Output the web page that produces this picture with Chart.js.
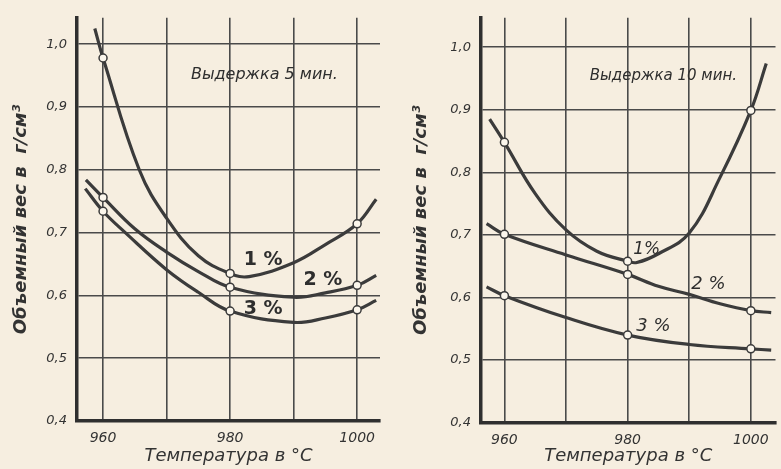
<!DOCTYPE html>
<html><head><meta charset="utf-8">
<script src="https://cdn.jsdelivr.net/npm/chart.js@4.4.1/dist/chart.umd.min.js"></script>
<style>
html,body{margin:0;padding:0;background:#f6eee0;}
#w{position:relative;width:781px;height:469px;overflow:hidden;background:#f6eee0;}
#c1{position:absolute;left:0;top:0;}
#c2{position:absolute;left:400px;top:0;}
</style></head><body>
<div id="w"><canvas id="c1" width="390" height="469"></canvas><canvas id="c2" width="381" height="469"></canvas></div>
<script>
// measured points (open circles)
const tempPoints = [960, 980, 1000];
const m5_1 = [0.978, 0.635, 0.714];
const m5_2 = [0.756, 0.613, 0.616];
const m5_3 = [0.734, 0.575, 0.577];
const m10_1 = [0.848, 0.658, 0.899];
const m10_2 = [0.701, 0.637, 0.579];
const m10_3 = [0.603, 0.540, 0.518];

// curves [temperature, density]
const curve5_1 = [[958.7,1.025],[960,0.978],[965.7,0.8],[970,0.723],[975,0.663],[980,0.635],[983,0.630],[990,0.652],[995,0.681],[1000,0.714],[1003,0.753]];
const curve5_2 = [[957.3,0.784],[960,0.756],[965,0.706],[970,0.669],[975,0.638],[980,0.613],[990,0.597],[995,0.604],[1000,0.616],[1003,0.632]];
const curve5_3 = [[957.2,0.770],[960,0.734],[963.5,0.7],[970,0.641],[975,0.605],[980,0.575],[990,0.557],[995,0.564],[1000,0.577],[1003,0.592]];
const curve10_1 = [[957.6,0.885],[960,0.848],[965,0.766],[970,0.708],[975,0.674],[980,0.658],[981.5,0.656],[985,0.670],[990,0.703],[995,0.792],[1000,0.899],[1002.5,0.974]];
const curve10_2 = [[957.1,0.718],[960,0.701],[970,0.668],[980,0.637],[985,0.618],[990,0.605],[995,0.590],[1000,0.579],[1003.3,0.576]];
const curve10_3 = [[957.1,0.617],[960,0.603],[970,0.568],[980,0.540],[990,0.525],[1000,0.518],[1003.3,0.516]];

// tick labels
const xTickValues = [960, 970, 980, 990, 1000];
const xTickLabels = {960:'960', 980:'980', 1000:'1000'};
const yTickValues = [0.4, 0.5, 0.6, 0.7, 0.8, 0.9, 1.0];
const yTickLabels = ['0,4','0,5','0,6','0,7','0,8','0,9','1,0'];

const seriesNames = ['1 %', '2 %', '3 %'];
const yTitle = 'Объемный вес в  г/см³';
const xTitle = 'Температура в °С';

// annotations in data coordinates
const notes5 = [
  {t:'Выдержка 5 мин.', x:985.4, y:0.951, f:'italic 16px "DejaVu Sans"'},
  {t:'1 %', x:985.2, y:0.656, f:'bold 19px "DejaVu Sans"'},
  {t:'2 %', x:994.6, y:0.625, f:'bold 19px "DejaVu Sans"'},
  {t:'3 %', x:985.2, y:0.579, f:'bold 19px "DejaVu Sans"'}
];
const notes10 = [
  {t:'Выдержка 10 мин.', x:985.8, y:0.954, f:'italic 15px "DejaVu Sans"'},
  {t:'1%', x:983.1, y:0.677, f:'italic 17px "DejaVu Sans"'},
  {t:'2 %', x:993.1, y:0.621, f:'italic 18px "DejaVu Sans"'},
  {t:'3 %', x:984.2, y:0.554, f:'italic 18px "DejaVu Sans"'}
];

const INK = '#3b3b3b';

function toXY(arr){ return arr.map(p => ({x:p[0], y:p[1]})); }
function pts(vals){ return tempPoints.map((t,i)=>({x:t, y:vals[i]})); }

function makeChart(id, curves, marks, notes, cfg){
  const datasets = [];
  curves.forEach((c,i)=>{
    datasets.push({label:seriesNames[i], data:toXY(c), borderColor:INK, borderWidth:3.2,
      pointRadius:0, tension:0.4, fill:false, order:2});
  });
  marks.forEach((m,i)=>{
    datasets.push({label:seriesNames[i]+' pts', type:'scatter', data:pts(m), showLine:false,
      pointRadius:4, pointBackgroundColor:'#fbf6ec', pointBorderColor:INK, pointBorderWidth:1.5, order:1});
  });
  const notePlugin = {
    id:'notes',
    afterDatasetsDraw(chart){
      const ctx = chart.ctx, xs = chart.scales.x, ys = chart.scales.y;
      ctx.save();
      ctx.fillStyle = '#2e2e2e';
      ctx.textAlign = 'center'; ctx.textBaseline = 'middle';
      notes.forEach(n=>{ ctx.font = n.f; ctx.fillText(n.t, xs.getPixelForValue(n.x), ys.getPixelForValue(n.y)); });
      ctx.restore();
    }
  };
  return new Chart(document.getElementById(id), {
    type:'line',
    data:{datasets},
    plugins:[notePlugin],
    options:{
      responsive:false, animation:false, devicePixelRatio:1,
      layout:{padding:{top:cfg.top, right:cfg.right, left:0, bottom:0}},
      plugins:{legend:{display:false}, tooltip:{enabled:false}},
      scales:{
        x:{type:'linear', min:cfg.xmin, max:cfg.xmax,
          afterBuildTicks(s){ s.ticks = xTickValues.map(v=>({value:v})); },
          afterFit(s){ s.height = cfg.xh; },
          grid:{color:'#4a4a4a', lineWidth:1.6, drawTicks:false},
          border:{display:true, color:'#2f2f2f', width:3.5},
          ticks:{padding:9, color:'#333', font:{family:'DejaVu Sans', style:'italic', size:14},
            callback:(v)=> xTickLabels[v] || ''},
          title:{display:true, text:xTitle, color:'#333', padding:{top:0,bottom:1.5},
            font:{family:'DejaVu Sans', style:'italic', size:18}}
        },
        y:{type:'linear', min:0.4, max:cfg.ymax,
          afterBuildTicks(s){ s.ticks = yTickValues.map(v=>({value:v})); },
          afterFit(s){ s.width = cfg.yw; },
          grid:{color:'#4a4a4a', lineWidth:1.6, drawTicks:false},
          border:{display:true, color:'#2f2f2f', width:3.5},
          ticks:{padding:10, color:'#333', font:{family:'DejaVu Sans', style:'italic', size:13},
            callback:(v)=>{ const i = yTickValues.findIndex(t=>Math.abs(t-v)<1e-6); return i>=0 ? yTickLabels[i] : ''; }},
          title:{display:true, text:yTitle, color:'#333', padding:{top:11,bottom:0},
            font:{family:'DejaVu Sans', style:'italic', weight:'bold', size:18}}
        }
      }
    }
  });
}

makeChart('c1', [curve5_1, curve5_2, curve5_3], [m5_1, m5_2, m5_3], notes5,
  {top:12, right:10, xmin:955.9, xmax:1003.6, ymax:1.042, yw:77, xh:48});
makeChart('c2', [curve10_1, curve10_2, curve10_3], [m10_1, m10_2, m10_3], notes10,
  {top:13, right:0, xmin:956.2, xmax:1004.0, ymax:1.047, yw:81, xh:46.3});
</script>
</body></html>
